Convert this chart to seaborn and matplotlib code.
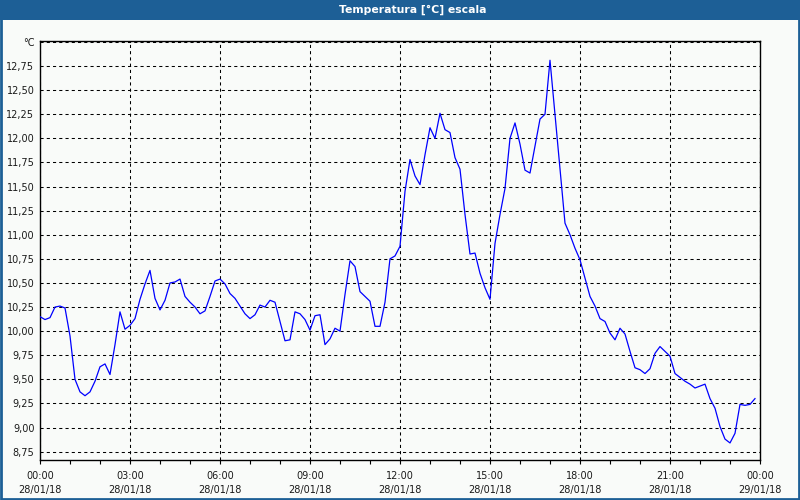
import numpy as np
import pandas as pd
import matplotlib
matplotlib.use("Agg")
import matplotlib.pyplot as plt
import matplotlib.dates as mdates
from matplotlib.ticker import FuncFormatter, FixedLocator
from matplotlib.patches import Rectangle
import seaborn as sns

# ---- data (10-minute samples starting 28/01/18 00:00) ----
start_time = "2018-01-28 00:00"
sample_step = "10min"
temperature = [
    10.15, 10.12, 10.14, 10.25, 10.26, 10.24, 9.95, 9.50, 9.37, 9.33,
    9.37, 9.48, 9.63, 9.66, 9.55, 9.86, 10.20, 10.02, 10.06, 10.13,
    10.33, 10.49, 10.63, 10.34, 10.22, 10.32, 10.50, 10.51, 10.54, 10.36,
    10.30, 10.25, 10.18, 10.21, 10.36, 10.52, 10.54, 10.49, 10.39, 10.34,
    10.26, 10.18, 10.13, 10.17, 10.27, 10.25, 10.32, 10.30, 10.10, 9.90,
    9.91, 10.20, 10.18, 10.12, 10.01, 10.16, 10.17, 9.86, 9.92, 10.03,
    10.00, 10.38, 10.73, 10.67, 10.41, 10.36, 10.31, 10.05, 10.05, 10.30,
    10.75, 10.78, 10.88, 11.45, 11.78, 11.61, 11.52, 11.83, 12.11, 12.00,
    12.26, 12.09, 12.06, 11.80, 11.68, 11.21, 10.80, 10.81, 10.60, 10.45,
    10.33, 10.91, 11.21, 11.48, 12.00, 12.16, 11.94, 11.67, 11.64, 11.92,
    12.20, 12.25, 12.81, 12.25, 11.70, 11.12, 11.00, 10.86, 10.74, 10.55,
    10.36, 10.26, 10.13, 10.10, 9.98, 9.91, 10.03, 9.97, 9.79, 9.62,
    9.60, 9.56, 9.61, 9.77, 9.84, 9.79, 9.74, 9.56, 9.52, 9.48,
    9.45, 9.41, 9.43, 9.45, 9.30, 9.20, 9.01, 8.88, 8.84, 8.94,
    9.24, 9.23, 9.24, 9.30,
]
y_ticks = [8.75, 9.00, 9.25, 9.50, 9.75, 10.00, 10.25, 10.50, 10.75,
           11.00, 11.25, 11.50, 11.75, 12.00, 12.25, 12.50, 12.75, 13.00]
title_text = "Temperatura [°C] escala"
unit_label = "°C"

times = pd.date_range(start_time, periods=len(temperature), freq=sample_step)
df = pd.DataFrame({"time": times, "temp": temperature})

# ---- styling ----
bg = "#f9fbf9"
bar_blue = "#1d5f96"
plt.rcParams["font.family"] = ["DejaVu Sans"]

fig = plt.figure(figsize=(8, 5), dpi=100, facecolor=bg)
ax = fig.add_axes([0.05, 1 - 460.3 / 500, 0.90, (460.3 - 40.7) / 500])
ax.set_facecolor(bg)

sns.lineplot(data=df, x="time", y="temp", ax=ax, color="#0000ff",
             linewidth=0.9, zorder=3)

ax.set_xlim(pd.Timestamp("2018-01-28 00:00"), pd.Timestamp("2018-01-29 00:00"))
ax.set_ylim(8.66, 13.013)

ax.xaxis.set_major_locator(mdates.HourLocator(byhour=range(0, 24, 3)))
ax.xaxis.set_minor_locator(mdates.HourLocator())
ax.xaxis.set_major_formatter(mdates.DateFormatter("%H:%M\n%d/%m/%y"))
ax.yaxis.set_major_locator(FixedLocator(y_ticks))
ax.yaxis.set_major_formatter(FuncFormatter(
    lambda v, p: unit_label if abs(v - 13.0) < 1e-6 else f"{v:.2f}".replace(".", ",")))

ax.set_xlabel("")
ax.set_ylabel("")
ax.tick_params(axis="x", which="both", direction="out", length=3, width=0.8,
               color="black", labelsize=7, pad=5)
ax.tick_params(axis="y", which="both", length=0, labelsize=7, pad=4)
for lab in ax.get_xticklabels():
    lab.set_linespacing(1.45)
    lab.set_color("#1a1a1a")
for lab in ax.get_yticklabels():
    lab.set_color("#1a1a1a")

ax.grid(True, which="major", axis="both", color="black", linewidth=0.75,
        linestyle=(0, (3, 3)), zorder=1)
for s in ax.spines.values():
    s.set_color("black")
    s.set_linewidth(1.0)

# title bar
fig.patches.append(Rectangle((0, 1 - 20 / 500), 1, 20 / 500, transform=fig.transFigure,
                             facecolor=bar_blue, edgecolor="none", zorder=0))
fig.text(413 / 800, 1 - 10 / 500, title_text, color="white", fontsize=7.8,
         fontweight="bold", ha="center", va="center")
# window border
fig.patches.append(Rectangle((0.001, 0.002), 0.998, 0.996, transform=fig.transFigure,
                             facecolor="none", edgecolor=bar_blue, linewidth=2, zorder=5))

fig.savefig("out.png", dpi=100, facecolor=bg)
